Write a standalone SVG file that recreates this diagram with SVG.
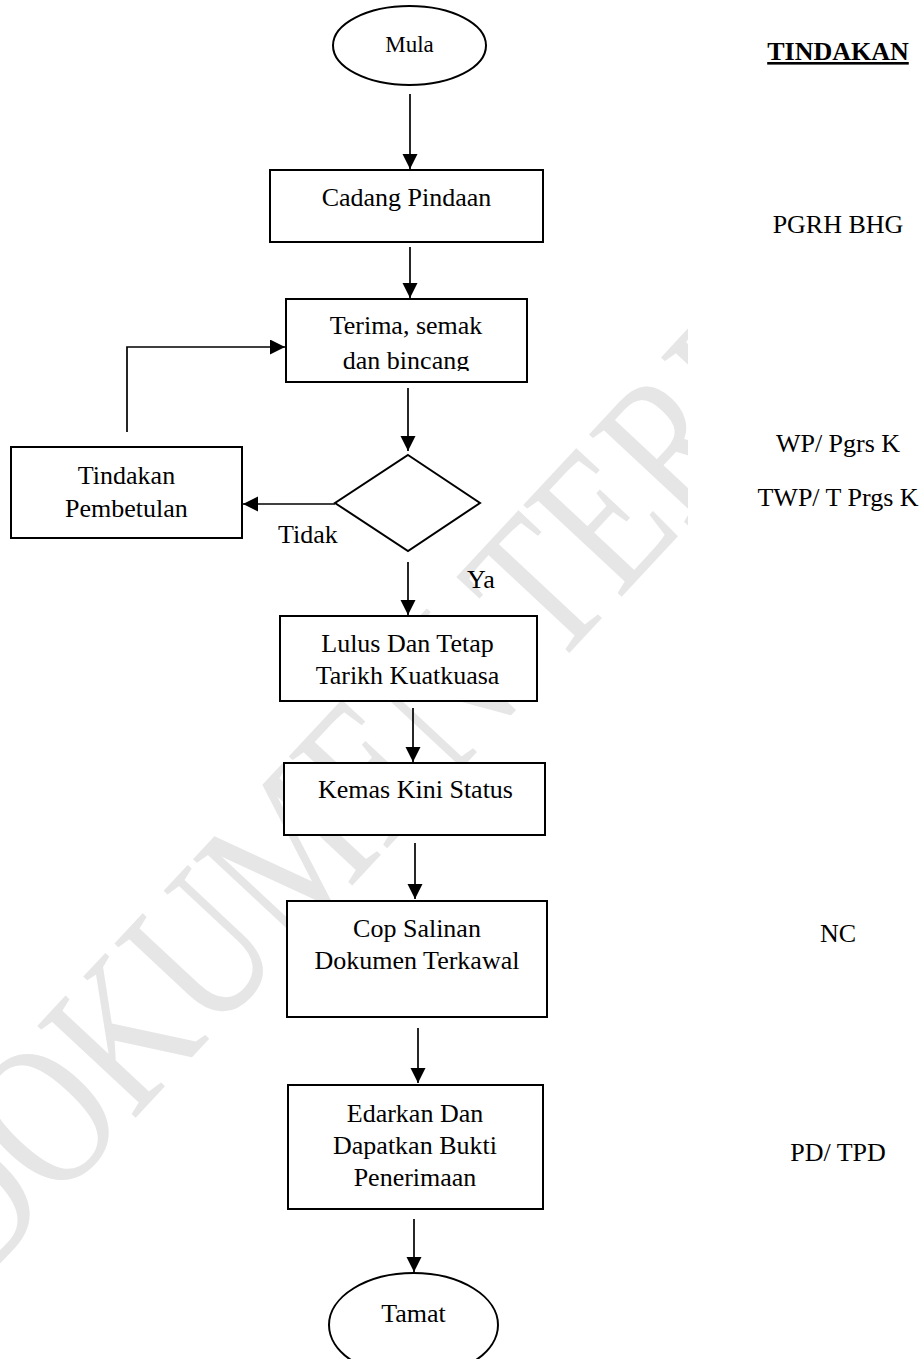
<svg xmlns="http://www.w3.org/2000/svg" width="923" height="1359" viewBox="0 0 923 1359">
<style>
.t{font-family:"Liberation Serif","Times New Roman",serif;font-size:26px;fill:#000}
.c{text-anchor:middle}
.box{fill:#fff;stroke:#000;stroke-width:2}
.con{fill:none;stroke:#000;stroke-width:1.7}
.wm{font-family:"Liberation Serif","Times New Roman",serif;font-size:158px;fill:#e6e6e6}
</style>
<defs>
<marker id="ah" markerUnits="userSpaceOnUse" markerWidth="16" markerHeight="16" refX="15" refY="7.5" orient="auto">
<path d="M0,0 L15,7.5 L0,15 z" fill="#000"/>
</marker>
<clipPath id="wmclip"><rect x="0" y="0" width="688" height="1359"/></clipPath>
<clipPath id="terclip"><rect x="286" y="299" width="241" height="72"/></clipPath>
</defs>
<rect x="0" y="0" width="923" height="1359" fill="#fff"/>
<g id="watermark" clip-path="url(#wmclip)">
<text class="wm" x="0" y="0" transform="translate(-23 1288) rotate(-47) scale(1 1.3)">DOKUMEN TERKAWAL</text>
</g>
<g id="connectors">
<line class="con" x1="410" y1="94" x2="410" y2="169" marker-end="url(#ah)"/>
<line class="con" x1="410" y1="247" x2="410" y2="298" marker-end="url(#ah)"/>
<line class="con" x1="408" y1="388" x2="408" y2="451" marker-end="url(#ah)"/>
<line class="con" x1="335" y1="504" x2="243" y2="504" marker-end="url(#ah)"/>
<polyline class="con" points="127,432 127,347 285,347" marker-end="url(#ah)"/>
<line class="con" x1="408" y1="562" x2="408" y2="615" marker-end="url(#ah)"/>
<line class="con" x1="413" y1="708" x2="413" y2="762" marker-end="url(#ah)"/>
<line class="con" x1="415" y1="843" x2="415" y2="899" marker-end="url(#ah)"/>
<line class="con" x1="418" y1="1028" x2="418" y2="1083" marker-end="url(#ah)"/>
<line class="con" x1="414" y1="1219" x2="414" y2="1272" marker-end="url(#ah)"/>
</g>
<g id="mula">
<ellipse class="box" cx="409.5" cy="45.5" rx="76.5" ry="39.5"/>
<text class="t c" x="409.5" y="52" style="font-size:23px">Mula</text>
</g>
<g id="cadang">
<rect class="box" x="270" y="170" width="273" height="72"/>
<text class="t c" x="406.5" y="206">Cadang Pindaan</text>
</g>
<g id="terima">
<rect class="box" x="286" y="299" width="241" height="83"/>
<g clip-path="url(#terclip)">
<text class="t c" x="406" y="334">Terima, semak</text>
<text class="t c" x="406" y="369">dan bincang</text>
</g>
</g>
<g id="keputusan">
<polygon class="box" points="408,455 480,503 408,551 335,503"/>
</g>
<g id="pembetulan">
<rect class="box" x="11" y="447" width="231" height="91"/>
<text class="t c" x="126.5" y="484">Tindakan</text>
<text class="t c" x="126.5" y="517">Pembetulan</text>
</g>
<g id="label-tidak"><text class="t" x="278" y="543">Tidak</text></g>
<g id="label-ya"><text class="t" x="467" y="588">Ya</text></g>
<g id="lulus">
<rect class="box" x="280" y="616" width="257" height="85"/>
<text class="t c" x="407.5" y="652">Lulus Dan Tetap</text>
<text class="t c" x="407.5" y="684">Tarikh Kuatkuasa</text>
</g>
<g id="kemas">
<rect class="box" x="284" y="763" width="261" height="72"/>
<text class="t c" x="415.5" y="798">Kemas Kini Status</text>
</g>
<g id="cop">
<rect class="box" x="287" y="901" width="260" height="116"/>
<text class="t c" x="417" y="937">Cop Salinan</text>
<text class="t c" x="417" y="969">Dokumen Terkawal</text>
</g>
<g id="edarkan">
<rect class="box" x="288" y="1085" width="255" height="124"/>
<text class="t c" x="415" y="1122">Edarkan Dan</text>
<text class="t c" x="415" y="1154">Dapatkan Bukti</text>
<text class="t c" x="415" y="1186">Penerimaan</text>
</g>
<g id="tamat">
<ellipse class="box" cx="413.5" cy="1325" rx="84.5" ry="52"/>
<text class="t c" x="413.5" y="1322">Tamat</text>
</g>
<g id="tindakan-col">
<text class="t c" x="838" y="60" style="font-weight:bold;text-decoration:underline">TINDAKAN</text>
<text class="t c" x="838" y="233">PGRH BHG</text>
<text class="t c" x="838" y="452">WP/ Pgrs K</text>
<text class="t c" x="838" y="506">TWP/ T Prgs K</text>
<text class="t c" x="838" y="942">NC</text>
<text class="t c" x="838" y="1161">PD/ TPD</text>
</g>
</svg>
